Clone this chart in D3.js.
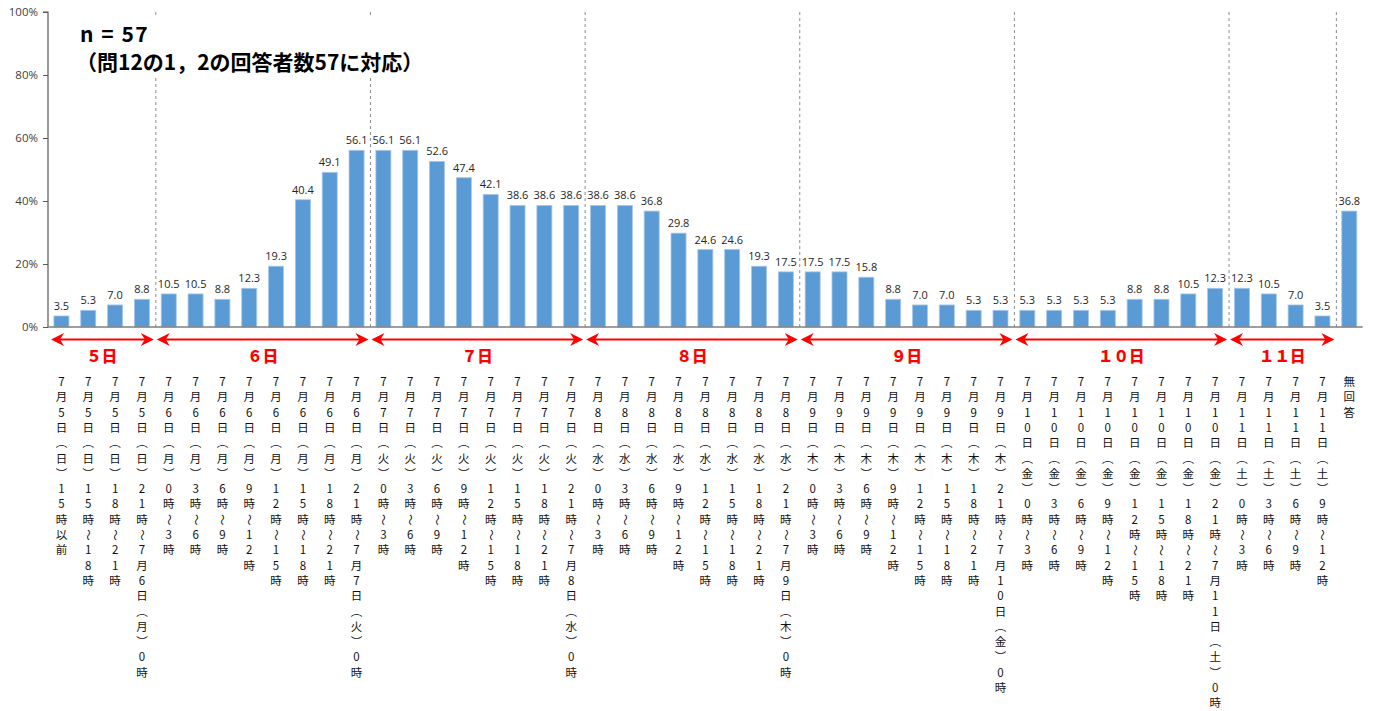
<!DOCTYPE html>
<html>
<head>
<meta charset="utf-8">
<script src="https://cdn.jsdelivr.net/npm/d3@7"></script>
<style>
  html, body { margin: 0; padding: 0; background: #fff; }
  svg { display: block; }
</style>
</head>
<body>
<svg id="chart" width="1378" height="711"></svg>
<script>
// Time slots (one bar each)
const categories = [
  "7月5日（日）15時以前",
  "7月5日（日）15時～18時",
  "7月5日（日）18時～21時",
  "7月5日（日）21時～7月6日（月）0時",
  "7月6日（月）0時～3時",
  "7月6日（月）3時～6時",
  "7月6日（月）6時～9時",
  "7月6日（月）9時～12時",
  "7月6日（月）12時～15時",
  "7月6日（月）15時～18時",
  "7月6日（月）18時～21時",
  "7月6日（月）21時～7月7日（火）0時",
  "7月7日（火）0時～3時",
  "7月7日（火）3時～6時",
  "7月7日（火）6時～9時",
  "7月7日（火）9時～12時",
  "7月7日（火）12時～15時",
  "7月7日（火）15時～18時",
  "7月7日（火）18時～21時",
  "7月7日（火）21時～7月8日（水）0時",
  "7月8日（水）0時～3時",
  "7月8日（水）3時～6時",
  "7月8日（水）6時～9時",
  "7月8日（水）9時～12時",
  "7月8日（水）12時～15時",
  "7月8日（水）15時～18時",
  "7月8日（水）18時～21時",
  "7月8日（水）21時～7月9日（木）0時",
  "7月9日（木）0時～3時",
  "7月9日（木）3時～6時",
  "7月9日（木）6時～9時",
  "7月9日（木）9時～12時",
  "7月9日（木）12時～15時",
  "7月9日（木）15時～18時",
  "7月9日（木）18時～21時",
  "7月9日（木）21時～7月10日（金）0時",
  "7月10日（金）0時～3時",
  "7月10日（金）3時～6時",
  "7月10日（金）6時～9時",
  "7月10日（金）9時～12時",
  "7月10日（金）12時～15時",
  "7月10日（金）15時～18時",
  "7月10日（金）18時～21時",
  "7月10日（金）21時～7月11日（土）0時",
  "7月11日（土）0時～3時",
  "7月11日（土）3時～6時",
  "7月11日（土）6時～9時",
  "7月11日（土）9時～12時",
  "無回答"
];

// Share of respondents (%)
const values = [
  3.5, 5.3, 7.0, 8.8,
  10.5, 10.5, 8.8, 12.3, 19.3, 40.4, 49.1, 56.1,
  56.1, 56.1, 52.6, 47.4, 42.1, 38.6, 38.6, 38.6,
  38.6, 38.6, 36.8, 29.8, 24.6, 24.6, 19.3, 17.5,
  17.5, 17.5, 15.8, 8.8, 7.0, 7.0, 5.3, 5.3,
  5.3, 5.3, 5.3, 5.3, 8.8, 8.8, 10.5, 12.3,
  12.3, 10.5, 7.0, 3.5,
  36.8
];

// Day groups: label and number of slots
const dayLabels = ["５日", "６日", "７日", "８日", "９日", "１０日", "１１日"];
const daySlotCounts = [4, 8, 8, 8, 8, 8, 4];

const yTicks = [0, 20, 40, 60, 80, 100];
const titleLines = ["n = 57", "（問12の1，2の回答者数57に対応）"];

// ---- layout ----
const svg = d3.select("#chart");
const plotLeft = 48, plotRight = 1362.7, plotTop = 12, plotBottom = 327;

const x = d3.scaleBand()
  .domain(d3.range(categories.length))
  .range([plotLeft, plotRight])
  .paddingInner(0.44)
  .paddingOuter(0.22);

const y = d3.scaleLinear().domain([0, 100]).range([plotBottom, plotTop]);

const step = x.step();
const boundaryX = i => plotLeft + i * step;

// group boundaries (index where each day starts), plus the "no answer" slot
const groupStarts = [];
let acc = 0;
daySlotCounts.forEach(c => { groupStarts.push(acc); acc += c; });
const boundaries = groupStarts.slice(1).concat([acc]);

// dashed separators
svg.append("g").selectAll("line")
  .data(boundaries)
  .join("line")
  .attr("x1", d => boundaryX(d) + 0.5)
  .attr("x2", d => boundaryX(d) + 0.5)
  .attr("y1", plotTop)
  .attr("y2", plotBottom)
  .attr("stroke", "#8c8c8c")
  .attr("stroke-width", 1)
  .attr("stroke-dasharray", "3,3");

// bars
svg.append("g").selectAll("rect")
  .data(values)
  .join("rect")
  .attr("x", (d, i) => x(i))
  .attr("y", d => y(d))
  .attr("width", x.bandwidth())
  .attr("height", d => plotBottom - y(d))
  .attr("fill", "#5b9bd5")
  .attr("stroke", "#a9c8ea")
  .attr("stroke-width", 0.8);

// value labels
svg.append("g").selectAll("text")
  .data(values)
  .join("text")
  .attr("x", (d, i) => x(i) + x.bandwidth() / 2)
  .attr("y", d => y(d) - 6)
  .attr("text-anchor", "middle")
  .attr("font-family", "'Open Sans', 'Liberation Sans', sans-serif")
  .attr("font-size", 11)
  .attr("fill", "#262626")
  .text(d => d.toFixed(1));

// y axis
const yAxis = d3.axisLeft(y)
  .tickValues(yTicks)
  .tickSize(5)
  .tickPadding(5)
  .tickFormat(d => d + "%");
const yg = svg.append("g")
  .attr("transform", `translate(${plotLeft},0)`)
  .call(yAxis);
yg.select(".domain").attr("stroke", "#595959").attr("stroke-width", 1.2)
  .attr("d", `M-5,${plotTop}H0V${plotBottom}`);
yg.selectAll(".tick line").attr("stroke", "#595959");
yg.selectAll(".tick text")
  .attr("font-family", "'Open Sans', 'Liberation Sans', sans-serif")
  .attr("font-size", 11.5)
  .attr("fill", "#404040");

// baseline
svg.append("line")
  .attr("x1", plotLeft).attr("x2", plotRight)
  .attr("y1", plotBottom).attr("y2", plotBottom)
  .attr("stroke", "#7f7f7f").attr("stroke-width", 1.5);

// title block with white backing
const tg = svg.append("g");
tg.append("rect")
  .attr("x", 70).attr("y", 16).attr("width", 358).attr("height", 62)
  .attr("fill", "#fff");
tg.selectAll("text")
  .data(titleLines)
  .join("text")
  .attr("x", (d, i) => i === 0 ? 80 : 76)
  .attr("y", (d, i) => 42 + i * 28)
  .attr("font-family", "'Noto Sans CJK JP', sans-serif")
  .attr("font-weight", "bold")
  .attr("font-size", 21)
  .attr("letter-spacing", (d, i) => i === 0 ? 1.5 : 0)
  .attr("fill", "#000")
  .text(d => d);

// day range arrows
const arrowY = 339.5;
const red = "#ff0000";
const ag = svg.append("g");
function arrowHead(g, tipX, dir) {
  // dir = -1 points left, +1 points right
  const len = 13, half = 6.5, notch = 4;
  const bx = tipX - dir * len;
  g.append("path")
    .attr("d", `M${tipX},${arrowY} L${bx},${arrowY - half} L${tipX - dir * (len - notch)},${arrowY} L${bx},${arrowY + half} Z`)
    .attr("fill", red);
}
daySlotCounts.forEach((c, k) => {
  const s = groupStarts[k];
  const x0 = boundaryX(s) + (k === 0 ? 3 : 1.5);
  const x1 = boundaryX(s + c) - 1.5;
  ag.append("line")
    .attr("x1", x0 + 4).attr("x2", x1 - 4)
    .attr("y1", arrowY).attr("y2", arrowY)
    .attr("stroke", red).attr("stroke-width", 2);
  arrowHead(ag, x0, -1);
  arrowHead(ag, x1, 1);
  ag.append("text")
    .attr("x", (boundaryX(s) + boundaryX(s + c)) / 2)
    .attr("y", 362)
    .attr("text-anchor", "middle")
    .attr("font-family", "'Noto Sans CJK JP', sans-serif")
    .attr("font-weight", "900")
    .attr("font-size", 15.5)
    .attr("fill", red)
    .text(dayLabels[k]);
});

// vertical category labels: one glyph per line
const charStep = 15.3, firstCharY = 386;
const lg = svg.append("g")
  .attr("font-family", "'Noto Sans CJK JP', sans-serif")
  .attr("font-size", 11.5)
  .attr("fill", "#111");
categories.forEach((label, i) => {
  const cx = x(i) + x.bandwidth() / 2;
  const chars = Array.from(label);
  const col = lg.append("g");
  col.selectAll("text")
    .data(chars)
    .join("text")
    .attr("text-anchor", "middle")
    .attr("transform", (ch, j) => {
      const cy = firstCharY + j * charStep;
      if (ch === "～") return `translate(${cx},${cy - 4}) rotate(90)`;
      return `translate(${cx},${cy})`;
    })
    .attr("dy", ch => ch === "～" ? "0.35em" : null)
    .text(ch => ch === "（" ? "︵" : ch === "）" ? "︶" : ch);
});
</script>
</body>
</html>
